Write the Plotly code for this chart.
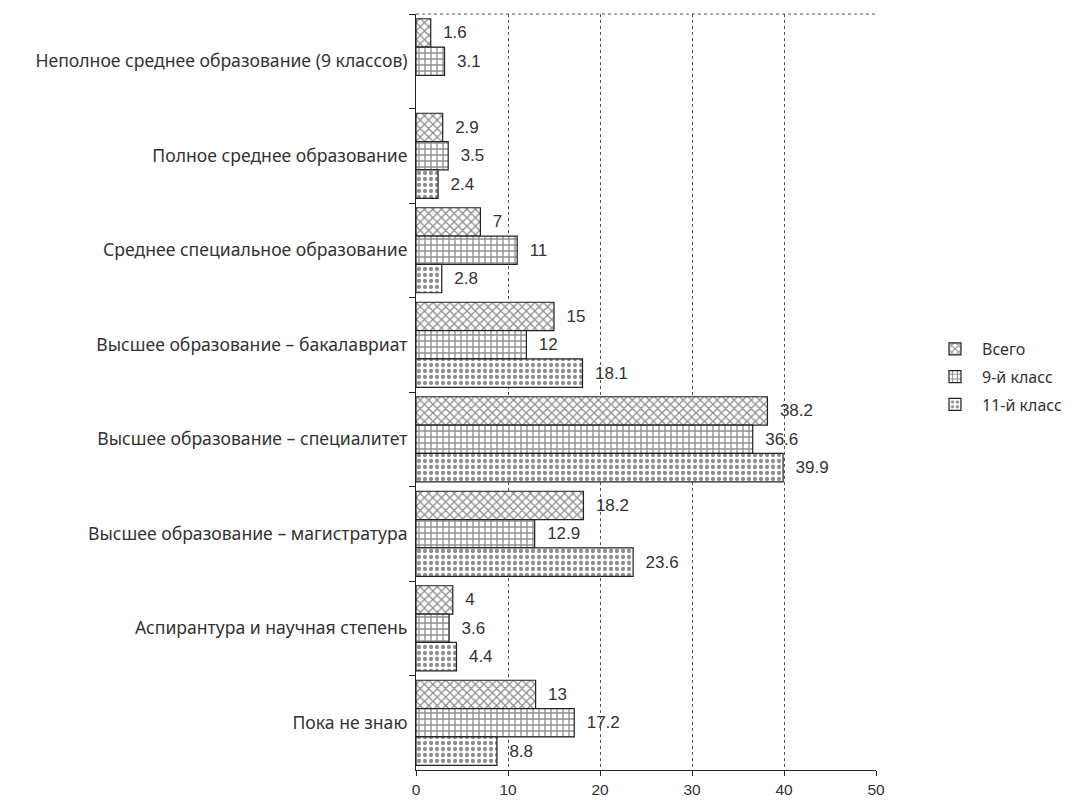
import plotly.graph_objects as go

categories = [
    "Неполное среднее образование (9 классов)",
    "Полное среднее образование",
    "Среднее специальное образование",
    "Высшее образование – бакалавриат",
    "Высшее образование – специалитет",
    "Высшее образование – магистратура",
    "Аспирантура и научная степень",
    "Пока не знаю",
]
series_names = ["Всего", "9-й класс", "11-й класс"]
vsego = [1.6, 2.9, 7, 15, 38.2, 18.2, 4, 13]
klass9 = [3.1, 3.5, 11, 12, 36.6, 12.9, 3.6, 17.2]
klass11 = [None, 2.4, 2.8, 18.1, 39.9, 23.6, 4.4, 8.8]
x_ticks = [0, 10, 20, 30, 40, 50]

patterns = ["x", "+", "."]
label_font = "Noto Sans, Open Sans, sans-serif"
num_font = "Liberation Sans Narrow, Liberation Sans, Arial Narrow, sans-serif"

fig = go.Figure()
for i, (name, vals, pat) in enumerate(zip(series_names, [vsego, klass9, klass11], patterns)):
    fig.add_trace(go.Bar(
        y=categories, x=vals, name=name, orientation="h",
        legendgroup=f"g{i}",
        text=[("" if v is None else "  " + f"{v:g}") for v in vals],
        textposition="outside", cliponaxis=False,
        textfont=dict(family=num_font, size=17, color="#333333"),
        marker=dict(color="white",
                    line=dict(color="#222222", width=1.2),
                    pattern=dict(shape=pat, fgcolor="#222222", bgcolor="white",
                                 size=6, solidity=0.4)),
    ))

fig.update_layout(
    width=1092, height=800,
    margin=dict(l=408, r=224, t=6, b=38),
    paper_bgcolor="white", plot_bgcolor="white",
    barmode="group", bargap=0.1, bargroupgap=0,
    showlegend=True,
    legend=dict(x=1.113, y=0.52, xanchor="left", yanchor="middle",
                traceorder="grouped",
                font=dict(family=label_font, size=16, color="#333333"),
                itemwidth=44, tracegroupgap=4),
    xaxis=dict(range=[0, 50], tickvals=x_ticks, ticks="outside", ticklen=5,
               tickcolor="#222222", showline=True, linecolor="#222222", linewidth=1,
               showgrid=True, gridcolor="#555555", griddash="dot", gridwidth=1,
               zeroline=False,
               tickfont=dict(family=num_font, size=15.5, color="#333333")),
    yaxis=dict(type="category", autorange="reversed", tickson="boundaries",
               ticks="outside", ticklen=6, tickcolor="#222222",
               showline=True, linecolor="#222222", linewidth=1, showgrid=False,
               tickfont=dict(family=label_font, size=17.6, color="#333333"),
               ticklabelstandoff=4),
)
fig.add_shape(type="line", xref="paper", yref="paper", x0=0, x1=1, y0=1, y1=1,
              line=dict(color="#555555", width=1, dash="dot"))

fig.write_html("out.html")
